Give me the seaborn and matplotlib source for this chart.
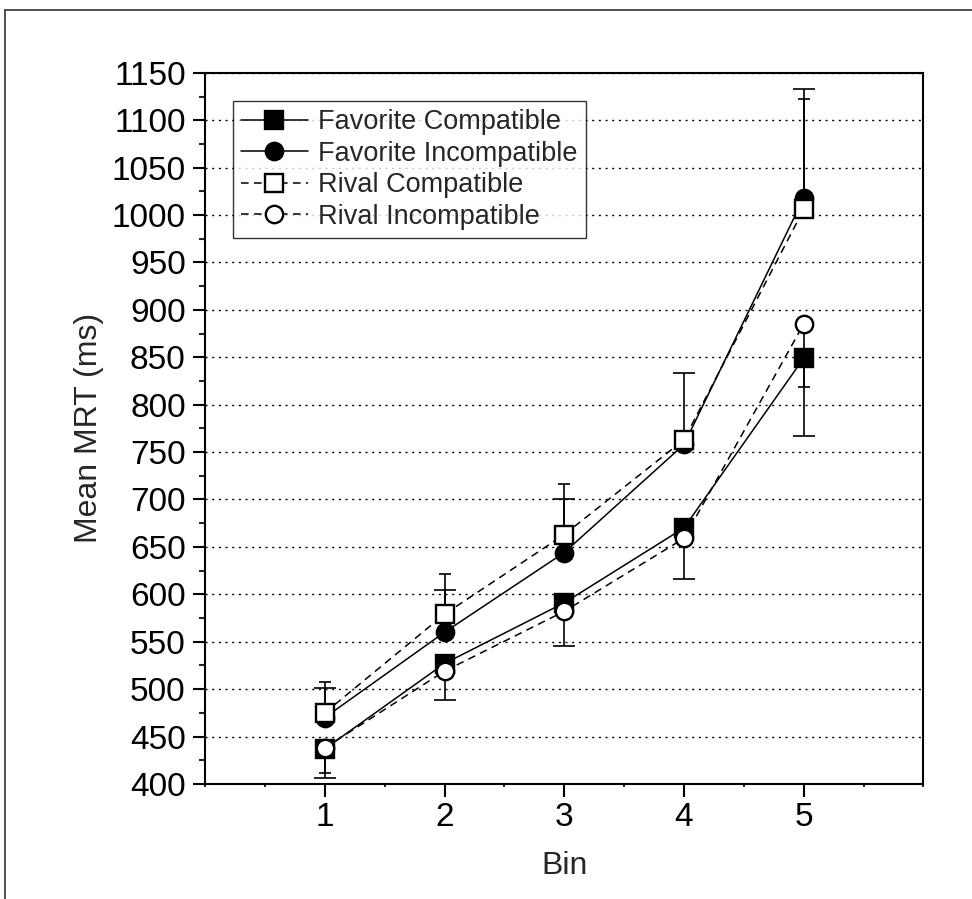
import pandas as pd
import matplotlib.pyplot as plt
from matplotlib.lines import Line2D
from matplotlib.ticker import MultipleLocator
import seaborn as sns

# values
bins = [1, 2, 3, 4, 5]
fav_compat = [437, 527, 591, 670, 849]
fav_incompat = [470, 560, 644, 758, 1018]
rival_compat = [475, 579, 663, 763, 1006]
rival_incompat = [438, 519, 582, 659, 885]

# one-sided error bars (down for the lower pair, up for the upper pair)
fav_compat_err = [25, 12, 12, 15, 30]
fav_incompat_err = [38, 61, 72, 10, 104]
rival_compat_err = [26, 26, 38, 70, 127]
rival_incompat_err = [32, 31, 37, 43, 118]

labels = ['Favorite Compatible', 'Favorite Incompatible',
          'Rival Compatible', 'Rival Incompatible']

sns.set_style('ticks')
plt.rcParams['font.family'] = ['Liberation Sans', 'DejaVu Sans']

fig = plt.figure(figsize=(9.72, 8.99), dpi=100)
ax = fig.add_axes([0.211, 0.128, 0.739, 0.791])

dash = (0, (5, 3.5))
series = [
    (labels[0], fav_compat, fav_compat_err, 'down', 's', 'black', '-', 4.3),
    (labels[1], fav_incompat, fav_incompat_err, 'up', 'o', 'black', '-', 4.3),
    (labels[2], rival_compat, rival_compat_err, 'up', 's', 'white', dash, 7.9),
    (labels[3], rival_incompat, rival_incompat_err, 'down', 'o', 'white', dash, 7.9),
]

for i, (name, vals, err, direction, marker, face, ls, cap) in enumerate(series):
    zeros = [0] * len(err)
    yerr = [err, zeros] if direction == 'down' else [zeros, err]
    _, caps, _ = ax.errorbar(bins, vals, yerr=yerr, fmt='none', ecolor='black',
                             elinewidth=1.2, capsize=cap, capthick=1.2, zorder=2)
    # hide the cap sitting at the data point
    caps[1 if direction == 'down' else 0].set_visible(False)

    df = pd.DataFrame({'Bin': bins, 'MRT': vals})
    sns.lineplot(data=df, x='Bin', y='MRT', ax=ax, color='black', linestyle=ls,
                 linewidth=1.1, marker=marker, markersize=12.5, markerfacecolor=face,
                 markeredgecolor='black', markeredgewidth=1.7, label=name,
                 zorder=3 + i)

ax.set_xlim(0, 6)
ax.set_ylim(400, 1150)
ax.xaxis.set_major_locator(MultipleLocator(1))
ax.xaxis.set_minor_locator(MultipleLocator(0.5))
ax.yaxis.set_major_locator(MultipleLocator(50))
ax.yaxis.set_minor_locator(MultipleLocator(25))
ax.set_xticks([1, 2, 3, 4, 5])

ax.grid(axis='y', which='major', color='black', linewidth=1, linestyle=(0, (1.5, 3.3)))
for sp in ax.spines.values():
    sp.set_linewidth(1.5)
    sp.set_color('black')
    sp.set_zorder(10)

ax.tick_params(axis='both', which='major', direction='out', length=9, width=1.5,
               labelsize=24, color='black', labelcolor='black')
ax.tick_params(axis='y', which='major', pad=5)
ax.tick_params(axis='x', which='major', pad=4)
ax.tick_params(axis='y', which='minor', direction='out', length=4.5, width=1.5)
ax.tick_params(axis='x', which='minor', direction='out', length=2, width=1.5)

ax.set_xlabel('Bin', fontsize=23, labelpad=13)
ax.set_ylabel('Mean MRT (ms)', fontsize=23)
ax.yaxis.set_label_coords(-0.141, 0.5)

leg = ax.legend(loc='upper left', bbox_to_anchor=(0.039, 0.96), frameon=True,
                fancybox=False, shadow=False, handlelength=2.45,
                handletextpad=0.4, labelspacing=0.2, borderpad=0.3,
                borderaxespad=0, prop={'family': ['Liberation Sans', 'DejaVu Sans'], 'size': 19.5})
leg.get_frame().set_edgecolor('black')
leg.get_frame().set_linewidth(1.0)
leg.set_zorder(20)

# outer frame of the original figure
fig.add_artist(Line2D([5 / 972, 1], [1 - 10 / 899, 1 - 10 / 899], color='#333333', lw=1.2))
fig.add_artist(Line2D([5 / 972, 5 / 972], [0, 1 - 10 / 899], color='#333333', lw=1.2))

fig.savefig('out.png', dpi=100)
